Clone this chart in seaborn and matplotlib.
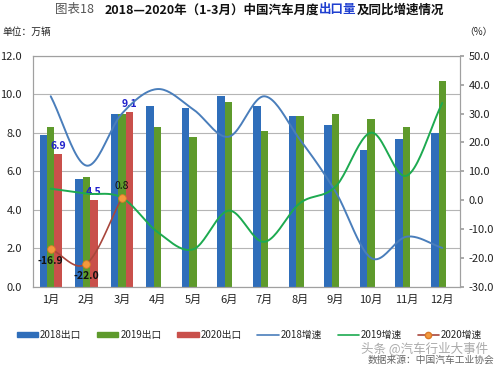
import numpy as np
import pandas as pd
import seaborn as sns
import matplotlib.pyplot as plt
from matplotlib.lines import Line2D
from matplotlib.patches import Patch
from matplotlib.offsetbox import TextArea, HPacker, AnchoredOffsetbox

months = ["1月", "2月", "3月", "4月", "5月", "6月", "7月", "8月", "9月", "10月", "11月", "12月"]
exp_2018 = [7.9, 5.6, 9.0, 9.4, 9.3, 9.9, 9.4, 8.9, 8.4, 7.1, 7.7, 8.0]
exp_2019 = [8.3, 5.7, 9.0, 8.3, 7.8, 9.6, 8.1, 8.9, 9.0, 8.7, 8.3, 10.7]
exp_2020 = [6.9, 4.5, 9.1]
gr_2018 = [36.0, 12.0, 30.0, 38.5, 31.5, 22.0, 36.0, 21.0, 3.0, -20.0, -12.6, -16.5]
gr_2019 = [4.0, 2.3, 0.9, -11.0, -17.0, -3.6, -14.4, -1.0, 4.7, 23.4, 8.5, 33.7]
gr_2020 = [-16.9, -22.0, 0.8]

sns.set_theme(style="white")
plt.rcParams['font.family'] = ['Noto Sans CJK SC', 'DejaVu Sans']

c18, c19, c20 = "#2F6EBA", "#5E9A2C", "#C9504B"
l18, l19, l20 = "#4A7EBB", "#1DAA50", "#A8463C"

rows = []
for i, m in enumerate(months):
    rows.append((m, "2018出口", exp_2018[i]))
    rows.append((m, "2019出口", exp_2019[i]))
    rows.append((m, "2020出口", exp_2020[i] if i < len(exp_2020) else np.nan))
df = pd.DataFrame(rows, columns=["month", "series", "value"])


def smooth(y, n=24):
    # Catmull-Rom curve through the points, like Excel's smoothed line
    y = np.asarray(y, dtype=float)
    x = np.arange(len(y), dtype=float)
    px = np.concatenate([[2 * x[0] - x[1]], x, [2 * x[-1] - x[-2]]])
    py = np.concatenate([[2 * y[0] - y[1]], y, [2 * y[-1] - y[-2]]])
    xs, ys = [], []
    t = np.linspace(0, 1, n)
    for k in range(1, len(px) - 2):
        for arr, out in ((px, xs), (py, ys)):
            p0, p1, p2, p3 = arr[k - 1], arr[k], arr[k + 1], arr[k + 2]
            out.extend(0.5 * ((2 * p1) + (-p0 + p2) * t + (2 * p0 - 5 * p1 + 4 * p2 - p3) * t ** 2
                              + (-p0 + 3 * p1 - 3 * p2 + p3) * t ** 3))
    return np.array(xs), np.array(ys)


fig = plt.figure(figsize=(4.99, 3.65), dpi=100)
ax = fig.add_axes([0.066, 0.214, 0.856, 0.633])

sns.barplot(data=df, x="month", y="value", hue="series", palette=[c18, c19, c20],
            width=0.63, ax=ax, legend=False, saturation=1, edgecolor="none")
ax.set_ylim(0, 12)
ax.set_yticks(np.arange(0, 12.1, 2))
ax.set_yticklabels([f"{v:.1f}" for v in np.arange(0, 12.1, 2)])
ax.set_xlim(-0.5, 11.5)
ax.set_xlabel("")
ax.set_ylabel("")
ax.grid(axis="y", color="#B5B5B5", lw=0.8)
ax.set_axisbelow(True)
for s in ax.spines.values():
    s.set_color("#A0A0A0")
    s.set_linewidth(0.8)
ax.tick_params(axis="y", labelsize=8, length=0, pad=8, colors="#222222")
ax.tick_params(axis="x", labelsize=8, length=0, pad=6, colors="#222222")

# data labels for 2020 bars
for i, v in enumerate(exp_2020):
    ax.text(i + 0.21, v + 0.15, f"{v:.1f}", ha="center", va="bottom", fontsize=7.5,
            fontweight="bold", color="#2222CC")

ax2 = ax.twinx()
for vals, col in ((gr_2018, l18), (gr_2019, l19)):
    sx, sy = smooth(vals)
    sns.lineplot(x=sx, y=sy, color=col, lw=1.4, ax=ax2, sort=False, estimator=None)
sx, sy = smooth(gr_2020)
sns.lineplot(x=sx, y=sy, color=l20, lw=1.2, ax=ax2, sort=False, estimator=None)
sns.scatterplot(x=np.arange(len(gr_2020)), y=gr_2020, color="#F39A3C", s=30,
                edgecolor="#D9792A", linewidth=0.6, ax=ax2, zorder=5)
for i, v in enumerate(gr_2020):
    if v < 0:
        ax2.text(i, v - 2.5, f"{v:.1f}", ha="center", va="top", fontsize=7.5,
                 fontweight="bold", color="#111111")
    else:
        ax2.text(i, v + 2.5, f"{v:.1f}", ha="center", va="bottom", fontsize=7.5,
                 color="#111111")
ax2.set_ylim(-30, 50)
ax2.set_yticks(np.arange(-30, 51, 10))
ax2.set_yticklabels([f"{v:.1f}" for v in np.arange(-30, 51, 10)])
ax2.tick_params(axis="y", labelsize=8, length=3, color="#A0A0A0", pad=3, labelcolor="#222222")
for s in ax2.spines.values():
    s.set_color("#A0A0A0")
    s.set_linewidth(0.8)
ax2.set_ylabel("")

# title with coloured part
parts = [
    TextArea("图表18    ", textprops=dict(fontsize=9, color="#555555")),
    TextArea("2018—2020年（1-3月）中国汽车月度", textprops=dict(fontsize=9, fontweight="bold", color="#111111")),
    TextArea("出口量", textprops=dict(fontsize=9, fontweight="bold", color="#1F3FD0")),
    TextArea("及同比增速情况", textprops=dict(fontsize=9, fontweight="bold", color="#111111")),
]
box = HPacker(children=parts, align="baseline", pad=0, sep=0)
anchored = AnchoredOffsetbox(loc="center", child=box, frameon=False,
                             bbox_to_anchor=(0.5, 1 - 10 / 365), bbox_transform=fig.transFigure,
                             borderpad=0)
fig.add_artist(anchored)

fig.text(0.004, 1 - 32 / 365, "单位：万辆", fontsize=7, va="center", ha="left", color="#222222")
fig.text(0.988, 1 - 32 / 365, "（%）", fontsize=7, va="center", ha="right", color="#222222")

handles = [
    Patch(color=c18, label="2018出口"),
    Patch(color=c19, label="2019出口"),
    Patch(color=c20, label="2020出口"),
    Line2D([], [], color=l18, lw=1.2, label="2018增速"),
    Line2D([], [], color=l19, lw=1.2, label="2019增速"),
    Line2D([], [], color=l20, lw=1.2, marker="o", markersize=4.5,
           markerfacecolor="#F39A3C", markeredgecolor="#D9792A", label="2020增速"),
]
fig.legend(handles=handles, loc="center", bbox_to_anchor=(0.5, 1 - 335 / 365), ncol=6,
           frameon=False, fontsize=7, handlelength=2.2, handleheight=0.35,
           columnspacing=1.6, handletextpad=0.2)

fig.text(0.978, 1 - 349 / 365, "头条 @汽车行业大事件", fontsize=9, ha="right", va="center",
         color="#AAAAAA", style="italic")
fig.text(0.99, 1 - 360 / 365, "数据来源：中国汽车工业协会", fontsize=7, ha="right", va="center",
         color="#666666")

fig.savefig("out.png", dpi=100)
